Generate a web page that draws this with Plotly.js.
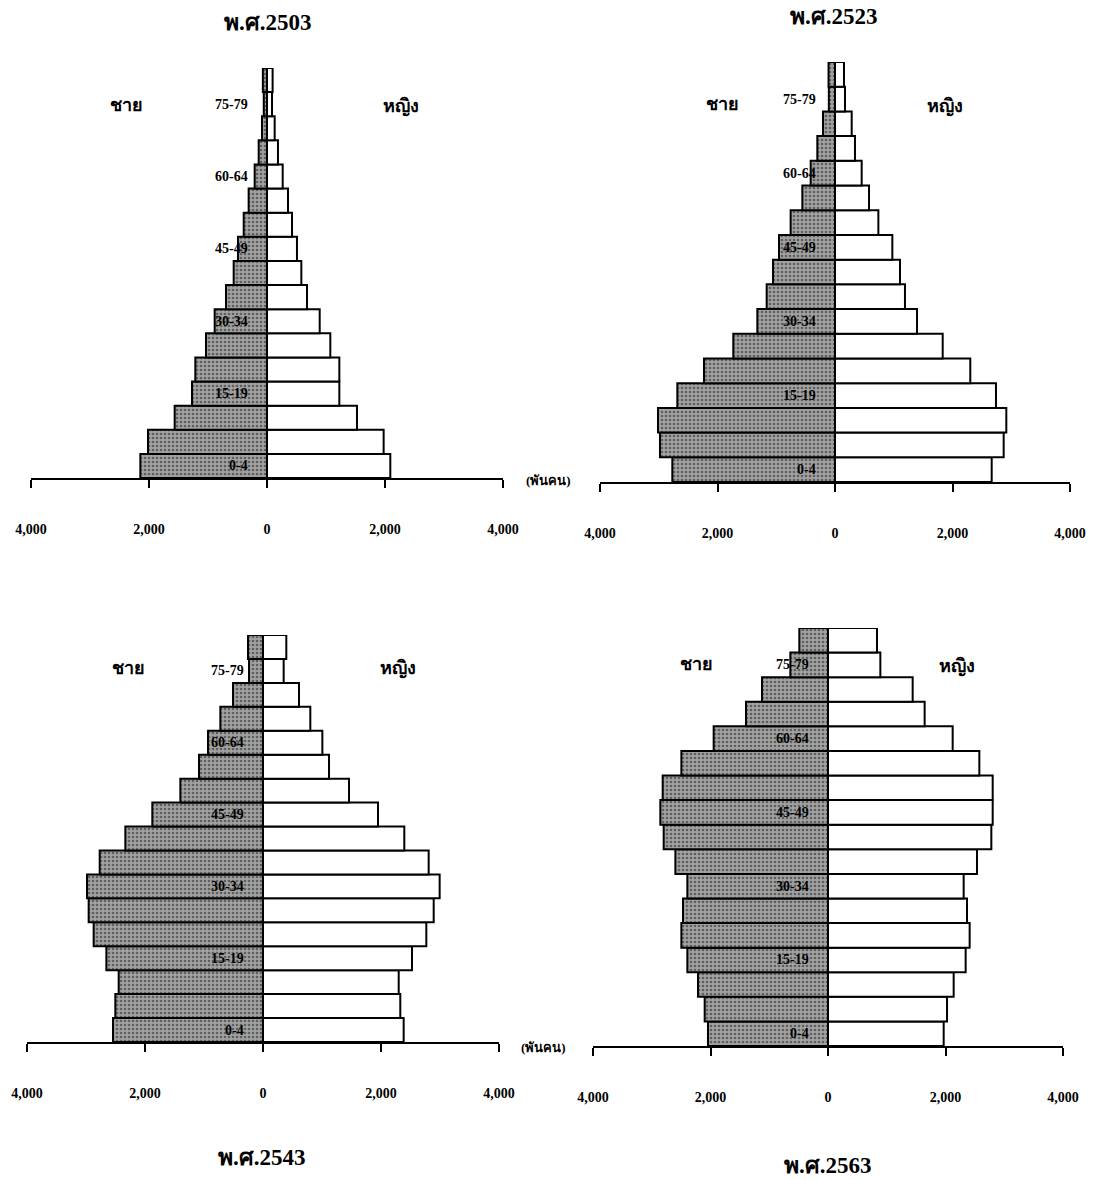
<!DOCTYPE html>
<html>
<head>
<meta charset="utf-8">
<script src="https://cdn.plot.ly/plotly-3.0.1.min.js"></script>
<style>html,body{margin:0;padding:0;background:#fff;}#chart{width:1095px;height:1180px;}</style>
</head>
<body>
<div id="chart"></div>
<script>
// Age groups (bottom to top)
const ageGroups = ['0-4','5-9','10-14','15-19','20-24','25-29','30-34','35-39','40-44','45-49','50-54','55-59','60-64','65-69','70-74','75-79','80+'];
const shownAgeLabels = ['0-4','15-19','30-34','45-49','60-64','75-79'];

// Population in thousands (พันคน)
const male2503   = [2147, 2017, 1565, 1271, 1215, 1034, 887, 695, 565, 492, 395, 311, 209, 141, 85, 55, 70];
const female2503 = [2090, 1977, 1525, 1226, 1226, 1073, 893, 678, 582, 508, 424, 356, 266, 186, 130, 85, 95];

const male2523   = [2769, 2979, 3013, 2684, 2230, 1731, 1322, 1163, 1055, 953, 755, 556, 414, 301, 204, 105, 110];
const female2523 = [2667, 2871, 2916, 2740, 2303, 1833, 1396, 1191, 1106, 976, 738, 579, 454, 340, 284, 170, 153];

const male2543   = [2542, 2503, 2446, 2655, 2870, 2955, 2983, 2768, 2333, 1876, 1401, 1085, 932, 723, 508, 237, 254];
const female2543 = [2384, 2327, 2300, 2525, 2768, 2893, 2994, 2808, 2395, 1949, 1458, 1119, 1006, 802, 610, 350, 395];

const male2563   = [2043, 2099, 2213, 2394, 2496, 2468, 2394, 2598, 2797, 2854, 2814, 2496, 1946, 1396, 1123, 641, 488];
const female2563 = [1969, 2026, 2139, 2343, 2411, 2366, 2309, 2536, 2780, 2803, 2803, 2576, 2122, 1645, 1441, 891, 834];

const tickVals = [-4000, -2000, 0, 2000, 4000];
const tickText = ['4,000', '2,000', '0', '2,000', '4,000'];

const titles = ['พ.ศ.2503', 'พ.ศ.2523', 'พ.ศ.2543', 'พ.ศ.2563'];
const maleLabel = 'ชาย';
const femaleLabel = 'หญิง';
const unitLabel = '(พันคน)';

const W = 1095, H = 1180;
const SERIF = 'Liberation Serif, Times New Roman, Noto Sans, DejaVu Sans, serif';

const panels = [
  {male: male2503, female: female2503, xd: [31, 503], yd: [68, 478],
   title: [268, 22], ml: [126, 105], fl: [401, 106], unit: [548, 480]},
  {male: male2523, female: female2523, xd: [600, 1070], yd: [62, 482],
   title: [834, 16], ml: [722, 104], fl: [945, 106], unit: null},
  {male: male2543, female: female2543, xd: [27, 499], yd: [635, 1042],
   title: [262, 1157], ml: [128, 668], fl: [398, 668], unit: [543, 1047]},
  {male: male2563, female: female2563, xd: [593, 1063], yd: [628, 1046],
   title: [828, 1165], ml: [696, 664], fl: [957, 666], unit: null}
];

const data = [];
const layout = {
  width: W, height: H,
  margin: {l: 0, r: 0, t: 0, b: 0},
  paper_bgcolor: '#fff', plot_bgcolor: 'rgba(0,0,0,0)',
  showlegend: false, barmode: 'overlay', bargap: 0,
  annotations: []
};

function pa(text, px, py, size, extra) {
  return Object.assign({
    text: text, xref: 'paper', yref: 'paper',
    x: px / W, y: 1 - py / H, xanchor: 'center', yanchor: 'middle',
    showarrow: false,
    font: {family: SERIF, size: size, color: '#000', weight: 700}
  }, extra || {});
}

panels.forEach((p, i) => {
  const n = i + 1;
  const xa = 'x' + (n === 1 ? '' : n), ya = 'y' + (n === 1 ? '' : n);
  const xk = 'xaxis' + (n === 1 ? '' : n), yk = 'yaxis' + (n === 1 ? '' : n);
  data.push({
    type: 'bar', orientation: 'h', xaxis: xa, yaxis: ya,
    y: ageGroups, x: p.male.map(v => -v),
    marker: {color: '#9a9a9a', line: {color: '#000', width: 2},
             pattern: {shape: '.', bgcolor: '#a2a2a2', fgcolor: '#5f5f5f', size: 4, solidity: 0.35, fillmode: 'replace'}},
    hoverinfo: 'skip'
  });
  data.push({
    type: 'bar', orientation: 'h', xaxis: xa, yaxis: ya,
    y: ageGroups, x: p.female,
    marker: {color: '#fff', line: {color: '#000', width: 2}},
    hoverinfo: 'skip'
  });
  layout[xk] = {
    domain: [p.xd[0] / W, p.xd[1] / W], anchor: ya,
    range: [-4000, 4000], autorange: false,
    tickvals: tickVals, ticktext: tickText,
    ticks: 'outside', ticklen: 8, tickwidth: 2, tickcolor: '#000',
    ticklabelstandoff: 29,
    showline: true, linecolor: '#000', linewidth: 2,
    showgrid: false, zeroline: false,
    tickfont: {family: SERIF, size: 14, color: '#000', weight: 700}
  };
  layout[yk] = {
    domain: [1 - p.yd[1] / H, 1 - p.yd[0] / H], anchor: xa,
    type: 'category', categoryorder: 'array', categoryarray: ageGroups,
    range: [-0.5, ageGroups.length - 0.5], autorange: false,
    showticklabels: false, showgrid: false, zeroline: false, showline: false, ticks: ''
  };
  shownAgeLabels.forEach(lbl => {
    layout.annotations.push({
      text: lbl, xref: xa, yref: ya, x: -290, y: lbl,
      xanchor: 'right', yanchor: 'middle', showarrow: false,
      font: {family: SERIF, size: 14, color: '#000', weight: 700}
    });
  });
  layout.annotations.push(pa(titles[i], p.title[0], p.title[1], 23));
  layout.annotations.push(pa(maleLabel, p.ml[0], p.ml[1], 18));
  layout.annotations.push(pa(femaleLabel, p.fl[0], p.fl[1], 18));
  if (p.unit) layout.annotations.push(pa(unitLabel, p.unit[0], p.unit[1], 13));
});

Plotly.newPlot('chart', data, layout, {displayModeBar: false, staticPlot: true});
</script>
</body>
</html>
